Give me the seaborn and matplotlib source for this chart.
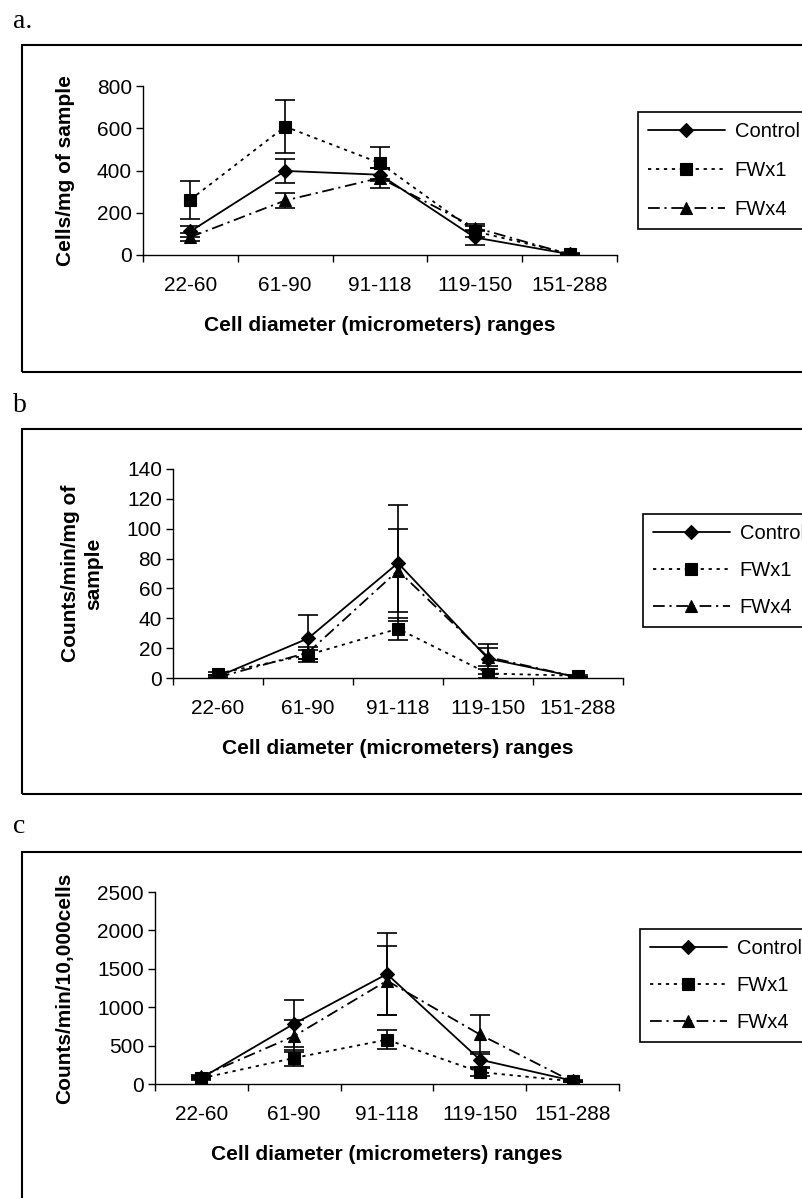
import matplotlib
matplotlib.use("Agg")
import matplotlib.pyplot as plt
import seaborn as sns
import numpy as np
import pandas as pd
from matplotlib.patches import Rectangle

# ---------------- data ----------------
categories = ["22-60", "61-90", "91-118", "119-150", "151-288"]
series_names = ["Control", "FWx1", "FWx4"]

a_control = [112, 398, 380, 83, 4]
a_control_err = [25, 58, 30, 34, 3]
a_fwx1 = [262, 608, 435, 112, 6]
a_fwx1_err = [90, 125, 75, 25, 3]
a_fwx4 = [85, 258, 365, 130, 3]
a_fwx4_err = [20, 35, 48, 15, 2]

b_control = [1, 26.5, 77, 13, 0.5]
b_control_err = [1, 16, 39, 10, 0.5]
b_fwx1 = [3, 15.5, 33, 3, 1.5]
b_fwx1_err = [1, 3, 7.5, 3, 0.5]
b_fwx4 = [0.5, 17, 72, 14, 0.5]
b_fwx4_err = [0.5, 4, 28, 6, 0.5]

c_control = [78, 786, 1432, 317, 43]
c_control_err = [20, 310, 530, 100, 10]
c_fwx1 = [75, 339, 577, 156, 35]
c_fwx1_err = [15, 100, 125, 50, 10]
c_fwx4 = [100, 625, 1345, 645, 30]
c_fwx4_err = [20, 205, 450, 250, 10]

panel_letters = ["a.", "b", "c"]
y_labels = ["Cells/mg of sample", "Counts/min/mg of\nsample", "Counts/min/10,000cells"]
x_label = "Cell diameter (micrometers) ranges"
y_ticks = [[0, 200, 400, 600, 800],
           [0, 20, 40, 60, 80, 100, 120, 140],
           [0, 500, 1000, 1500, 2000, 2500]]

# ---------------- style ----------------
sns.set_theme(style="white")
plt.rcParams["font.family"] = ["Liberation Sans", "DejaVu Sans"]
for k in ("text.color", "axes.labelcolor", "xtick.color", "ytick.color"):
    plt.rcParams[k] = "black"

W, H = 803, 1198
fig = plt.figure(figsize=(W / 100, H / 100), dpi=100)

markers = {"Control": "D", "FWx1": "s", "FWx4": "^"}
dashes = {"Control": "", "FWx1": (1.8, 2.6), "FWx4": (6.5, 2.6, 1.2, 2.6)}
marker_sizes = {"Control": 7.5, "FWx1": 8, "FWx4": 8.5}

panels = [
    dict(vals=[a_control, a_fwx1, a_fwx4], errs=[a_control_err, a_fwx1_err, a_fwx4_err],
         ax_px=(143, 86, 617, 255), frame=(22, 45, 372), letter_base=28,
         legend_xy=(638, 112), lspace=1.0, ylab_x=66),
    dict(vals=[b_control, b_fwx1, b_fwx4], errs=[b_control_err, b_fwx1_err, b_fwx4_err],
         ax_px=(173, 469, 623, 678), frame=(22, 429, 794), letter_base=412,
         legend_xy=(643, 514), lspace=0.9, ylab_x=82),
    dict(vals=[c_control, c_fwx1, c_fwx4], errs=[c_control_err, c_fwx1_err, c_fwx4_err],
         ax_px=(155, 892, 619, 1084), frame=(22, 852, 1215), letter_base=833,
         legend_xy=(640, 929), lspace=0.9, ylab_x=65),
]

FS = 15
LFS = 14.5
for i, p in enumerate(panels):
    l, t, r, b = p["ax_px"]
    ax = fig.add_axes([l / W, 1 - b / H, (r - l) / W, (b - t) / H])
    df = pd.DataFrame({
        "pos": np.tile(np.arange(len(categories)), len(series_names)),
        "value": np.concatenate([np.asarray(v, float) for v in p["vals"]]),
        "series": np.repeat(series_names, len(categories)),
    })
    sns.lineplot(data=df, x="pos", y="value", style="series", style_order=series_names,
                 markers=markers, dashes=dashes, color="black", linewidth=1.3,
                 markersize=8, markeredgecolor="black", markeredgewidth=0.8,
                 legend=False, sort=False, errorbar=None, ax=ax)
    handles = list(ax.lines[:3])
    for h, name in zip(handles, series_names):
        h.set_markersize(marker_sizes[name])
    for v, e in zip(p["vals"], p["errs"]):
        ax.errorbar(np.arange(len(categories)), v, yerr=e, fmt="none", ecolor="black",
                    elinewidth=1.2, capsize=7, capthick=1.2, zorder=3)

    yt = y_ticks[i]
    ax.set_ylim(yt[0], yt[-1])
    ax.set_xlim(-0.5, len(categories) - 0.5)
    ax.set_yticks(yt)
    ax.set_yticklabels([str(v) for v in yt], fontsize=FS)
    ax.set_xticks(np.arange(-0.5, len(categories), 1.0))
    ax.set_xticklabels([])
    ax.set_xticks(np.arange(len(categories)), minor=True)
    ax.set_xticklabels(categories, minor=True, fontsize=FS)
    ax.tick_params(axis="x", which="major", direction="out", length=5, width=1, bottom=True)
    ax.tick_params(axis="x", which="minor", length=0, pad=15, bottom=True)
    ax.tick_params(axis="y", direction="out", length=5, width=1, pad=3, left=True)
    sns.despine(ax=ax)
    for s in ("left", "bottom"):
        ax.spines[s].set_color("black")
        ax.spines[s].set_linewidth(1.0)
    ax.grid(False)
    ax.set_ylabel("")
    ax.set_xlabel(x_label, fontsize=FS, fontweight="bold", labelpad=15)
    fig.text(p["ylab_x"] / W, 1 - ((t + b) / 2) / H, y_labels[i], rotation=90,
             fontsize=FS, fontweight="bold", ha="center", va="center",
             multialignment="center", linespacing=1.25)

    lx, ly = p["legend_xy"]
    leg = ax.legend(handles, series_names, loc="upper left",
                    bbox_to_anchor=(lx / W, 1 - ly / H), bbox_transform=fig.transFigure,
                    frameon=True, fancybox=False, framealpha=1, edgecolor="black",
                    fontsize=LFS, handlelength=3.8, numpoints=1, borderaxespad=0,
                    labelspacing=p["lspace"], borderpad=0.5, handletextpad=0.5)
    leg.get_frame().set_linewidth(1.2)

    fx, ftop, fbot = p["frame"]
    fig.add_artist(Rectangle((fx / W, 1 - fbot / H), (W + 30 - fx) / W, (fbot - ftop) / H,
                             transform=fig.transFigure, fill=False, edgecolor="black",
                             linewidth=1.5, clip_on=False))
    fig.text(13 / W, 1 - p["letter_base"] / H, panel_letters[i], family="Liberation Serif",
             fontsize=20, va="baseline", ha="left")

fig.savefig("out.png", dpi=100)
